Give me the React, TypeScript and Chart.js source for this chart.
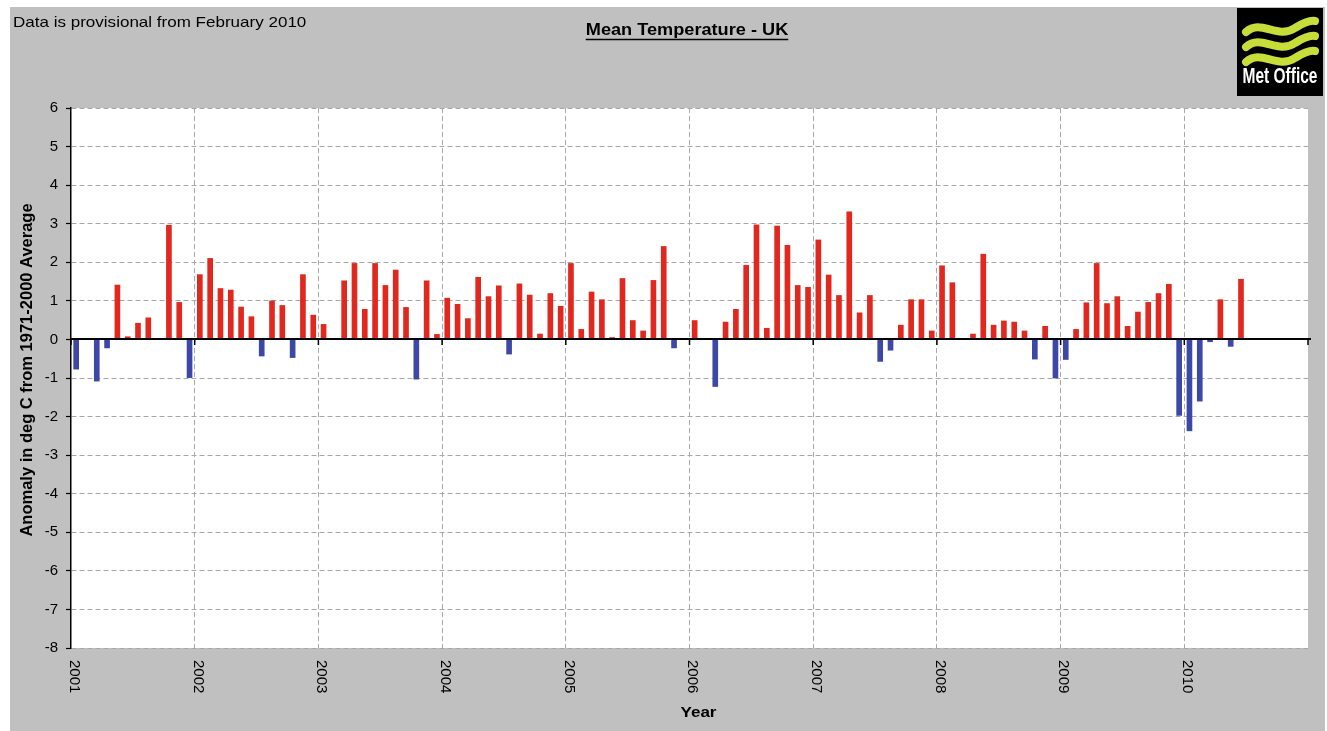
import React, { useEffect, useRef } from "react";
import { Chart, registerables } from "chart.js";

Chart.register(...registerables);

// ---- Data (monthly mean temperature anomaly, deg C vs 1971-2000) ----
const years = [2001, 2002, 2003, 2004, 2005, 2006, 2007, 2008, 2009, 2010];
const anom2001 = [-0.77, 0.0, -1.08, -0.22, 1.41, 0.07, 0.42, 0.56, 0.0, 2.96, 0.96, -0.99];
const anom2002 = [1.68, 2.1, 1.32, 1.28, 0.84, 0.59, -0.43, 1.0, 0.88, -0.47, 1.68, 0.63];
const anom2003 = [0.39, 0.0, 1.52, 1.97, 0.78, 1.97, 1.4, 1.8, 0.83, -1.03, 1.52, 0.13];
const anom2004 = [1.07, 0.91, 0.54, 1.61, 1.11, 1.39, -0.38, 1.44, 1.15, 0.14, 1.19, 0.86];
const anom2005 = [1.97, 0.26, 1.23, 1.03, 0.05, 1.58, 0.49, 0.22, 1.53, 2.41, -0.22, 0.0];
const anom2006 = [0.49, 0.0, -1.22, 0.45, 0.78, 1.92, 2.97, 0.29, 2.94, 2.44, 1.4, 1.35];
const anom2007 = [2.58, 1.67, 1.14, 3.31, 0.69, 1.14, -0.57, -0.28, 0.37, 1.03, 1.03, 0.22];
const anom2008 = [1.91, 1.47, 0.0, 0.14, 2.21, 0.37, 0.48, 0.45, 0.22, -0.51, 0.34, -1.0];
const anom2009 = [-0.52, 0.26, 0.95, 1.97, 0.93, 1.11, 0.34, 0.71, 0.96, 1.19, 1.43, -1.97];
const anom2010 = [-2.37, -1.6, -0.06, 1.03, -0.18, 1.56];
const anomaliesByYear = [anom2001, anom2002, anom2003, anom2004, anom2005, anom2006, anom2007, anom2008, anom2009, anom2010];

const NOTE_TEXT = "Data is provisional from February 2010";
const TITLE_TEXT = "Mean Temperature - UK";
const Y_TITLE = "Anomaly in deg C from 1971-2000 Average";
const X_TITLE = "Year";
const LOGO_TEXT = "Met Office";
const Y_MIN = -8;
const Y_MAX = 6;

const WARM = "#e0281f";
const COLD = "#3d47a5";
const FONT = "'Liberation Sans', Arial, sans-serif";
const SX = 1.135; // horizontal stretch of the original picture

function stretched(ctx: CanvasRenderingContext2D, text: string, x: number, y: number, sx: number, align: CanvasTextAlign) {
  ctx.save();
  ctx.translate(x, y);
  ctx.scale(sx, 1);
  ctx.textAlign = align;
  ctx.fillText(text, 0, 0);
  ctx.restore();
}

const decorPlugin = {
  id: "decor",
  beforeDraw(chart: any) {
    const { ctx, width, height, chartArea: ca } = chart;
    ctx.save();
    ctx.fillStyle = "#ffffff";
    ctx.fillRect(0, 0, width, height);
    ctx.fillStyle = "#c0c0c0";
    ctx.fillRect(10, 7, width - 12, height - 7);
    ctx.fillStyle = "#ffffff";
    ctx.fillRect(ca.left, ca.top, ca.right - ca.left, ca.bottom - ca.top);
    ctx.restore();
  },
  afterDatasetsDraw(chart: any) {
    const { ctx, chartArea: ca } = chart;
    const xs = chart.scales.x;
    const ys = chart.scales.y;
    const y0 = Math.round(ys.getPixelForValue(0));
    ctx.save();
    ctx.strokeStyle = "#000";
    ctx.lineWidth = 2;
    ctx.beginPath();
    ctx.moveTo(ca.left, y0);
    ctx.lineTo(ca.right + 3, y0);
    ctx.stroke();
    ctx.lineWidth = 1.5;
    for (let i = 0; i <= years.length; i++) {
      const px = xs.getPixelForValue(i * 12);
      ctx.beginPath();
      ctx.moveTo(px, y0);
      ctx.lineTo(px, y0 + 6);
      ctx.stroke();
    }
    ctx.restore();
  },
  afterDraw(chart: any) {
    const { ctx, chartArea: ca } = chart;
    const xs = chart.scales.x;
    ctx.save();
    ctx.fillStyle = "#000";
    ctx.textBaseline = "alphabetic";

    // note top-left
    ctx.font = `15px ${FONT}`;
    stretched(ctx, NOTE_TEXT, 13, 26.5, SX, "left");

    // title, bold underlined
    ctx.font = `bold 16px ${FONT}`;
    const cx = 687;
    stretched(ctx, TITLE_TEXT, cx, 35, SX, "center");
    const tw = ctx.measureText(TITLE_TEXT).width * SX;
    ctx.strokeStyle = "#000";
    ctx.lineWidth = 1.4;
    ctx.beginPath();
    ctx.moveTo(cx - tw / 2, 39.5);
    ctx.lineTo(cx + tw / 2, 39.5);
    ctx.stroke();

    // y-axis title
    ctx.save();
    ctx.translate(27, (ca.top + ca.bottom) / 2 - 8);
    ctx.rotate(-Math.PI / 2);
    ctx.font = `bold 16.5px ${FONT}`;
    ctx.textAlign = "center";
    ctx.textBaseline = "middle";
    ctx.fillText(Y_TITLE, 0, 0);
    ctx.restore();

    // year labels (rotated clockwise)
    ctx.font = `15px ${FONT}`;
    years.forEach((yr, i) => {
      const px = xs.getPixelForValue(i * 12);
      ctx.save();
      ctx.translate(px + 3, ca.bottom + 12);
      ctx.rotate(Math.PI / 2);
      ctx.textAlign = "left";
      ctx.textBaseline = "middle";
      ctx.fillText(String(yr), 0, 0);
      ctx.restore();
    });

    // x title
    ctx.font = `bold 15px ${FONT}`;
    stretched(ctx, X_TITLE, 698.5, 717, SX, "center");

    // Met Office logo
    const lx = 1237, ly = 8, lw = 86, lh = 88;
    ctx.fillStyle = "#000";
    ctx.fillRect(lx, ly, lw, lh);
    ctx.strokeStyle = "#c6dd3a";
    ctx.lineCap = "round";
    const bands = [16, 31, 46];
    bands.forEach((b) => {
      ctx.lineWidth = 8;
      ctx.beginPath();
      ctx.moveTo(lx + 9, ly + b + 8);
      ctx.bezierCurveTo(lx + 24, ly + b - 6, lx + 40, ly + b + 16, lx + 58, ly + b + 4);
      ctx.bezierCurveTo(lx + 66, ly + b - 1, lx + 72, ly + b - 4, lx + 78, ly + b - 3);
      ctx.stroke();
    });
    ctx.fillStyle = "#ffffff";
    ctx.font = `bold 22px ${FONT}`;
    const mw = ctx.measureText(LOGO_TEXT).width;
    stretched(ctx, LOGO_TEXT, lx + lw / 2, ly + 75, 75 / mw, "center");

    ctx.restore();
  },
};

export default function App() {
  const ref = useRef<HTMLCanvasElement | null>(null);

  useEffect(() => {
    if (!ref.current) return;
    const points: { x: number; y: number }[] = [];
    anomaliesByYear.forEach((arr, yi) => {
      arr.forEach((v, m) => points.push({ x: yi * 12 + m + 0.5, y: v }));
    });
    const colors = points.map((p) => (p.y >= 0 ? WARM : COLD));

    const chart = new Chart(ref.current, {
      type: "bar",
      data: {
        datasets: [
          {
            label: TITLE_TEXT,
            data: points,
            backgroundColor: colors,
            borderWidth: 0,
            barThickness: 5,
          },
        ],
      },
      plugins: [decorPlugin],
      options: {
        responsive: false,
        animation: false,
        events: [],
        layout: { padding: { left: 0, right: 19, top: 108, bottom: 0 } },
        plugins: { legend: { display: false }, tooltip: { enabled: false }, title: { display: false } },
        scales: {
          x: {
            type: "linear",
            min: 0,
            max: years.length * 12,
            offset: false,
            afterFit: (s: any) => {
              s.height = 83;
            },
            ticks: { display: false, stepSize: 12 },
            grid: {
              offset: false,
              color: (c: any) => (c.tick && (c.tick.value === 0 || c.tick.value === years.length * 12) ? "rgba(0,0,0,0)" : "#a8a8a8"),
              lineWidth: 1,
              drawTicks: false,
            },
            border: { display: false, dash: [5, 3] },
          },
          y: {
            min: Y_MIN,
            max: Y_MAX,
            afterFit: (s: any) => {
              s.width = 71;
            },
            ticks: {
              stepSize: 1,
              color: "#000",
              font: { family: "'Liberation Sans', Arial, sans-serif", size: 15 },
              padding: 8,
              callback: (v: any) => String(v),
            },
            grid: {
              color: "#a8a8a8",
              lineWidth: 1,
              tickColor: "#000",
              tickLength: 5,
              tickBorderDash: [],
              tickWidth: 1.2,
            },
            border: { display: true, color: "#000", width: 1.5, dash: [5, 3] },
          },
        },
      },
    } as any);
    return () => chart.destroy();
  }, []);

  return (
    <div style={{ width: 1327, height: 731 }}>
      <style>{"body{margin:0}"}</style>
      <canvas ref={ref} width={1327} height={731} style={{ display: "block" }} />
    </div>
  );
}
